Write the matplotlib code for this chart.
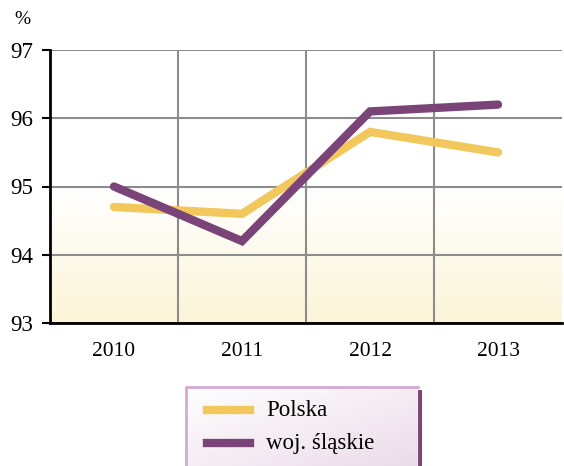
import numpy as np
import matplotlib.pyplot as plt
from matplotlib.colors import LinearSegmentedColormap

plt.rcParams['font.family'] = ['Liberation Serif', 'DejaVu Serif']

years = ['2010', '2011', '2012', '2013']
polska = [94.7, 94.6, 95.8, 95.5]
slaskie = [95.0, 94.2, 96.1, 96.2]
y_ticks = [93, 94, 95, 96, 97]

yellow = '#f2c75b'
purple = '#7a4479'

fig = plt.figure(figsize=(5.64, 4.66), dpi=100)
ax = fig.add_axes([50 / 564, 143 / 466, 512 / 564, 273 / 466])

x = np.arange(len(years))
ax.set_xlim(-0.5, 3.5)
ax.set_ylim(93, 97)

# pale yellow wash below the 95 line
grad = np.linspace(0, 1, 256).reshape(-1, 1)
wash = LinearSegmentedColormap.from_list('wash', ['#fcf5d8', '#ffffff'])
ax.imshow(grad, cmap=wash, extent=[-0.5, 3.5, 93, 95], origin='lower',
          aspect='auto', zorder=0)

ax.set_yticks(y_ticks)
ax.set_xticks(x)
ax.set_xticklabels(years)
ax.set_xticks(x[:-1] + 0.5, minor=True)
ax.grid(True, which='major', axis='y', color='#8c8c8c', lw=1.5, zorder=1)
ax.grid(True, which='minor', axis='x', color='#8c8c8c', lw=1.5, zorder=1)
ax.tick_params(axis='x', which='both', length=0, pad=14, labelsize=15.5)
ax.tick_params(axis='y', length=6, width=1.5, pad=6, labelsize=16.5)

for s in ['top', 'right']:
    ax.spines[s].set_visible(False)
for s in ['left', 'bottom']:
    ax.spines[s].set_linewidth(2)
    ax.spines[s].set_zorder(3)

ax.plot(x, polska, color=yellow, lw=6, solid_capstyle='round',
        solid_joinstyle='miter', zorder=2)
ax.plot(x, slaskie, color=purple, lw=6, solid_capstyle='round',
        solid_joinstyle='miter', zorder=2)

fig.text(14 / 564, 1 - 20 / 466, '%', fontsize=14, va='center', ha='left')

# legend box
lg = fig.add_axes([185 / 564, 0, 237 / 564, 80 / 466])
lg.set_xlim(0, 237)
lg.set_ylim(80, 0)
lg.axis('off')
pink = LinearSegmentedColormap.from_list('pink', ['#ffffff', '#ecdcea'])
lg.imshow(np.linspace(0, 1, 256).reshape(1, -1) * 0.5 +
          np.linspace(0, 1, 256).reshape(-1, 1) * 0.5,
          cmap=pink, extent=[0, 233, 80, 0], aspect='auto', zorder=0)
lg.plot([1, 1, 233], [80, 1, 1], color='#d4a9d2', lw=2, zorder=2)
lg.plot([235, 235], [6, 80], color=purple, lw=3.5, zorder=2)
lg.plot([22, 65], [24, 24], color=yellow, lw=6, zorder=2)
lg.plot([22, 65], [57, 57], color=purple, lw=6, zorder=2)
lg.text(81, 24, 'Polska', fontsize=16.5, va='center', ha='left')
lg.text(81, 57, 'woj. śląskie', fontsize=16.5, va='center', ha='left')

fig.savefig('out.png', dpi=100)
